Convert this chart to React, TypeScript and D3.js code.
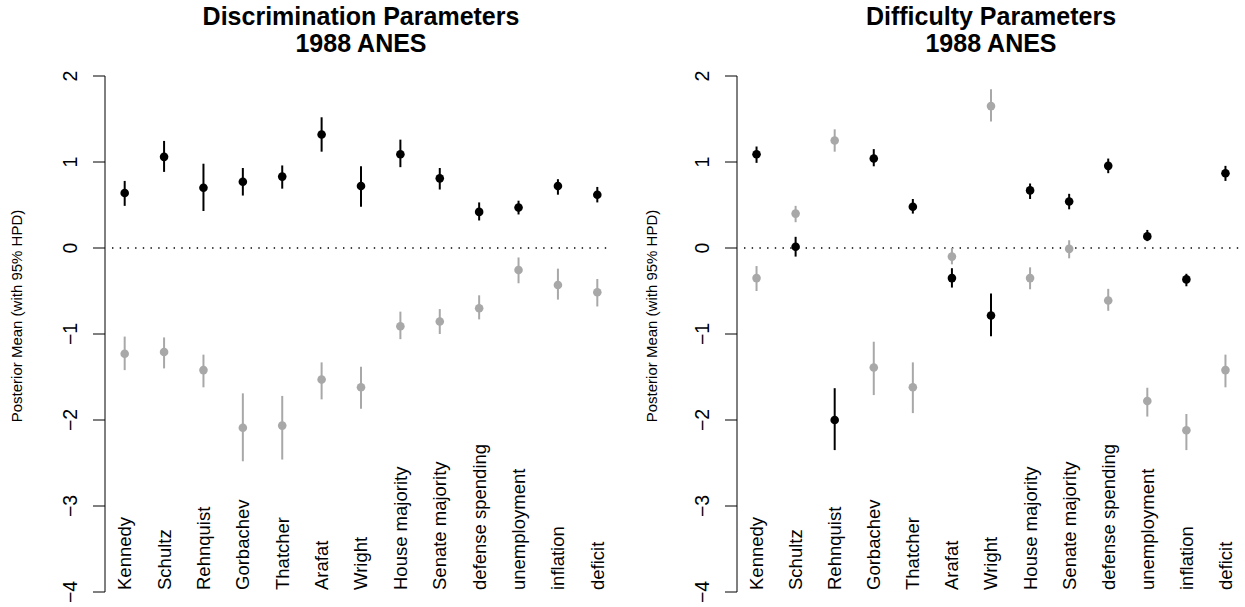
import React from "react";
import * as d3 from "d3";

// item labels, same order in both panels
const items = [
  "Kennedy", "Schultz", "Rehnquist", "Gorbachev", "Thatcher", "Arafat", "Wright",
  "House majority", "Senate majority", "defense spending", "unemployment", "inflation", "deficit",
];

const yTicks = [-4, -3, -2, -1, 0, 1, 2];

// discrimination, black series
const discBlackMean = [0.64, 1.06, 0.7, 0.77, 0.83, 1.32, 0.72, 1.09, 0.81, 0.42, 0.47, 0.72, 0.62];
const discBlackLo = [0.49, 0.885, 0.43, 0.61, 0.69, 1.12, 0.48, 0.94, 0.68, 0.32, 0.39, 0.62, 0.53];
const discBlackHi = [0.78, 1.245, 0.98, 0.93, 0.96, 1.52, 0.95, 1.26, 0.93, 0.53, 0.55, 0.8, 0.71];
// discrimination, grey series
const discGreyMean = [-1.23, -1.21, -1.42, -2.09, -2.065, -1.53, -1.62, -0.91, -0.855, -0.7, -0.255, -0.43, -0.515];
const discGreyLo = [-1.42, -1.4, -1.62, -2.48, -2.46, -1.76, -1.87, -1.06, -1.0, -0.83, -0.41, -0.6, -0.68];
const discGreyHi = [-1.03, -1.04, -1.24, -1.69, -1.72, -1.33, -1.38, -0.74, -0.71, -0.55, -0.11, -0.24, -0.36];

// difficulty, black series
const diffBlackMean = [1.09, 0.015, -2.0, 1.04, 0.48, -0.35, -0.785, 0.67, 0.54, 0.955, 0.135, -0.365, 0.87];
const diffBlackLo = [0.99, -0.1, -2.35, 0.95, 0.4, -0.46, -1.025, 0.57, 0.45, 0.87, 0.08, -0.445, 0.78];
const diffBlackHi = [1.18, 0.13, -1.63, 1.15, 0.57, -0.235, -0.53, 0.75, 0.63, 1.04, 0.21, -0.3, 0.955];
// difficulty, grey series
const diffGreyMean = [-0.35, 0.4, 1.25, -1.39, -1.62, -0.1, 1.65, -0.35, -0.01, -0.61, -1.78, -2.12, -1.42];
const diffGreyLo = [-0.5, 0.3, 1.12, -1.71, -1.92, -0.19, 1.47, -0.48, -0.12, -0.73, -1.96, -2.35, -1.62];
const diffGreyHi = [-0.21, 0.49, 1.38, -1.09, -1.33, 0.0, 1.845, -0.225, 0.09, -0.475, -1.625, -1.93, -1.24];

const FONT = "'Liberation Sans', Arial, Helvetica, sans-serif";
const GREY = "#a8a8a8";

const y = d3.scaleLinear().domain([-4, 2]).range([592, 76]);

function Series({ x, mean, lo, hi, color }) {
  return (
    <g>
      {mean.map((m, i) => (
        <g key={i}>
          <line x1={x(items[i])} x2={x(items[i])} y1={y(lo[i])} y2={y(hi[i])} stroke={color} strokeWidth={2} />
          <circle cx={x(items[i])} cy={y(m)} r={4.3} fill={color} />
        </g>
      ))}
    </g>
  );
}

function Panel({ left, right, title, black, grey, ytitleX }) {
  const x = d3.scalePoint().domain(items).range([left, right]).padding(0.5);
  const mid = (left + right) / 2;
  return (
    <g fontFamily={FONT}>
      <text x={mid} y={25} textAnchor="middle" fontWeight="bold" fontSize={25}>{title}</text>
      <text x={mid} y={52} textAnchor="middle" fontWeight="bold" fontSize={25}>1988 ANES</text>
      <line x1={left} x2={left} y1={y(-4)} y2={y(2)} stroke="#000" strokeWidth={1} />
      {yTicks.map((t) => (
        <g key={t}>
          <line x1={left - 12} x2={left} y1={y(t)} y2={y(t)} stroke="#000" />
          <text transform={`translate(${left - 35},${y(t)}) rotate(-90)`} textAnchor="middle" dy="0.35em" fontSize={19.5}>
            {t < 0 ? `\u2212${Math.abs(t)}` : t}
          </text>
        </g>
      ))}
      <text transform={`translate(${ytitleX},316) rotate(-90)`} textAnchor="middle" dy="0.35em" fontSize={15}>
        Posterior Mean (with 95% HPD)
      </text>
      <line x1={left + 7} x2={right - 5} y1={y(0)} y2={y(0)} stroke="#000" strokeWidth={1.3} strokeDasharray="1.4 6.3" />
      <Series x={x} {...grey} color={GREY} />
      <Series x={x} {...black} color="#000" />
      {items.map((d) => (
        <text key={d} transform={`translate(${x(d)},590) rotate(-90)`} dy="0.35em" fontSize={18.5}>{d}</text>
      ))}
    </g>
  );
}

export default function App() {
  return (
    <svg width={1245} height={607} style={{ position: "absolute", left: 0, top: 0, background: "#fff" }}>
      <Panel
        left={105}
        right={617}
        ytitleX={17}
        title="Discrimination Parameters"
        black={{ mean: discBlackMean, lo: discBlackLo, hi: discBlackHi }}
        grey={{ mean: discGreyMean, lo: discGreyLo, hi: discGreyHi }}
      />
      <Panel
        left={737}
        right={1245}
        ytitleX={652}
        title="Difficulty Parameters"
        black={{ mean: diffBlackMean, lo: diffBlackLo, hi: diffBlackHi }}
        grey={{ mean: diffGreyMean, lo: diffGreyLo, hi: diffGreyHi }}
      />
    </svg>
  );
}
